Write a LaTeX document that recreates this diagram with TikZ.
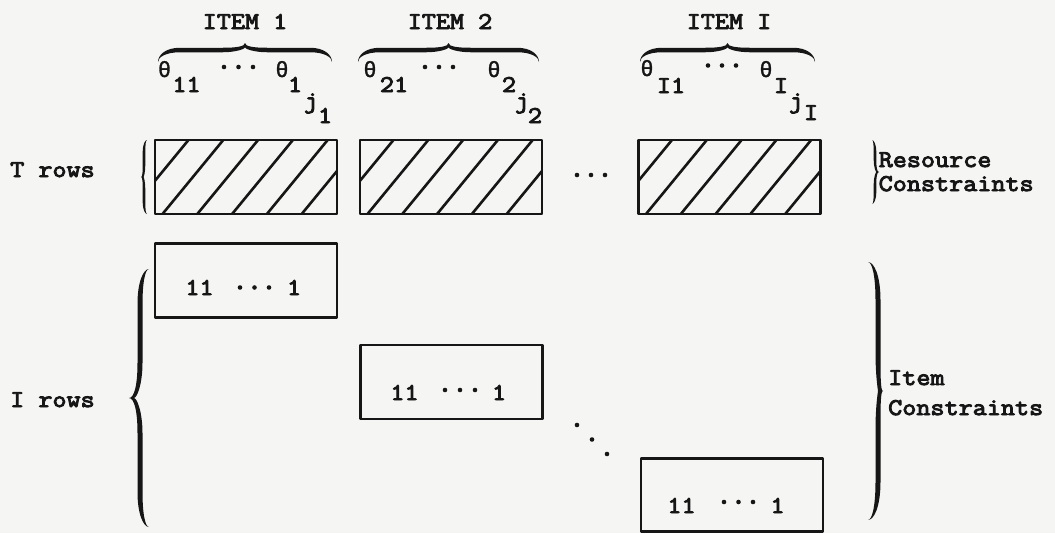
\documentclass[tikz,border=0pt]{standalone}
\usepackage{fontspec}
\usetikzlibrary{calc}
\newfontfamily\typefont{Latin Modern Mono}[FakeBold=4, FakeStretch=1.14]
\newfontfamily\greekfont{Liberation Mono}[FakeBold=1.5]
\definecolor{paper}{RGB}{245,245,243}
\definecolor{ink}{RGB}{22,22,22}

% Filled, tapered curly brace in a local frame: ends at (0,0) and (#1,0),
% straight parts at depth #2, tip at depth #3, curl length #4, stroke width #5.
\newcommand\bracefill[5]{%
  \fill[ink] (0,0)
    .. controls (0,{-0.6*#2}) and ({0.35*#4},{-#2-0.5*#5}) .. ({#4},{-#2-0.5*#5})
    -- ({0.5*#1-#4},{-#2-0.5*#5})
    .. controls ({0.5*#1-0.4*#4},{-#2-0.5*#5}) and ({0.5*#1},{-0.5*#2-0.5*#3}) .. ({0.5*#1},{-#3})
    .. controls ({0.5*#1},{-0.5*#2-0.5*#3}) and ({0.5*#1+0.4*#4},{-#2-0.5*#5}) .. ({0.5*#1+#4},{-#2-0.5*#5})
    -- ({#1-#4},{-#2-0.5*#5})
    .. controls ({#1-0.35*#4},{-#2-0.5*#5}) and (#1,{-0.6*#2}) .. (#1,0)
    .. controls (#1,{-0.4*#2}) and ({#1-0.35*#4},{-#2+0.5*#5}) .. ({#1-#4},{-#2+0.5*#5})
    -- ({0.5*#1+#4},{-#2+0.5*#5})
    .. controls ({0.5*#1+0.4*#4},{-#2+0.5*#5}) and ({0.5*#1},{-0.5*#2-0.5*#3+0.5*#5}) .. ({0.5*#1},{-#3+#5})
    .. controls ({0.5*#1},{-0.5*#2-0.5*#3+0.5*#5}) and ({0.5*#1-0.4*#4},{-#2+0.5*#5}) .. ({0.5*#1-#4},{-#2+0.5*#5})
    -- ({#4},{-#2+0.5*#5})
    .. controls ({0.35*#4},{-#2+0.5*#5}) and (0,{-0.4*#2}) .. (0,0) -- cycle;
}
\newcommand\tdot[1]{\fill[ink] #1 circle (2.3pt);}

\begin{document}
\begin{tikzpicture}[x=1pt, y=-1pt, line join=round,
  tw/.style={font=\typefont\fontsize{24}{28}\selectfont, inner sep=0pt, text=ink},
  th/.style={font=\greekfont\fontsize{22}{26}\selectfont, inner sep=0pt, text=ink},
  box/.style={draw=ink, line width=2.5pt, minimum width=182pt, minimum height=74pt, inner sep=0pt},
  hatch/.style={draw=ink, line width=2.6pt, line cap=round},
  hatched/.style={box, path picture={
      \foreach \k in {0,...,6}{
        \draw[hatch] ($(path picture bounding box.north west)+({43+34.8*\k},-11.6)$) -- ++(-102,124.2);
      }}}]

\path[use as bounding box, fill=paper] (0,0) rectangle (1055,533);

% column headings
\node[tw, anchor=base] (item1) at (245,29) {ITEM 1};
\node[tw, anchor=base] (item2) at (450,29) {ITEM 2};
\node[tw, anchor=base] (itemI) at (729,29) {ITEM I};

\begin{scope}[shift={(158,62)}] \bracefill{174}{12}{19}{22}{4.5} \end{scope}
\begin{scope}[shift={(358,62)}] \bracefill{181}{12}{19}{22}{4.5} \end{scope}
\begin{scope}[shift={(640,62)}] \bracefill{175}{12}{19}{22}{4.5} \end{scope}

% variables of item 1
\node[th, anchor=base] (a1) at (164.5,77) {θ};
\node[tw, anchor=base] (a1s) at (186.5,92) {11};
\tdot{(224,67)} \tdot{(238.5,67)} \tdot{(253,67)}
\node[th, anchor=base] (a2) at (282,77) {θ};
\node[tw, anchor=base] (a2s) at (295,92) {1};
\node[tw, anchor=base] (a2j) at (311,108) {j};
\node[tw, anchor=base] (a2t) at (325,123) {1};

% variables of item 2
\node[th, anchor=base] (b1) at (370,77) {θ};
\node[tw, anchor=base] (b1s) at (394,92) {21};
\tdot{(425,67)} \tdot{(439,67)} \tdot{(453,67)}
\node[th, anchor=base] (b2) at (494,77) {θ};
\node[tw, anchor=base] (b2s) at (509,92) {2};
\node[tw, anchor=base] (b2j) at (522,108) {j};
\node[tw, anchor=base] (b2t) at (535,123) {2};

% variables of item I
\node[th, anchor=base] (c1) at (647,76) {θ};
\node[tw, anchor=base] (c1s) at (671,93) {I1};
\tdot{(708,65.5)} \tdot{(722,65.5)} \tdot{(736,65.5)}
\node[th, anchor=base] (c2) at (766,77) {θ};
\node[tw, anchor=base] (c2s) at (781,93) {I};
\node[tw, anchor=base] (c2j) at (796,108) {j};
\node[tw, anchor=base] (c2t) at (811,120) {I};

% resource constraint blocks
\node[tw, anchor=base west] (trows) at (10,177) {T  rows};
\begin{scope}[shift={(147,140)}, x={(0pt,-1pt)}, y={(1pt,0pt)}] \bracefill{74}{3}{6}{12}{2.6} \end{scope}
\node[hatched] (h1) at (246,177) {};
\node[hatched] (h2) at (451,177) {};
\node[hatched] (h3) at (729.5,177) {};
\tdot{(577,175)} \tdot{(591,175)} \tdot{(605,175)}
\begin{scope}[shift={(872,140)}, x={(0pt,-1pt)}, y={(-1pt,0pt)}] \bracefill{64}{3}{7}{12}{2.6} \end{scope}
\node[tw, anchor=base west] (res) at (878.5,167) {Resource};
\node[tw, anchor=base west] (resc) at (878.5,191) {Constraints};

% item constraint blocks
\node[tw, anchor=base west] (irows) at (10,407) {I  rows};
\begin{scope}[shift={(149,269)}, x={(0pt,-1pt)}, y={(1pt,0pt)}] \bracefill{258}{9}{20}{35}{5} \end{scope}

\node[box] (bA) at (246,280.5) {};
\node[tw, anchor=base] (bA1) at (199.5,295) {11};
\tdot{(240,287.5)} \tdot{(254.5,287.5)} \tdot{(269,287.5)}
\node[tw, anchor=base] (bA2) at (294,295) {1};

\node[box] (bB) at (451.5,382) {};
\node[tw, anchor=base] (bB1) at (404.5,400) {11};
\tdot{(445,390)} \tdot{(460,390)} \tdot{(475,390)}
\node[tw, anchor=base] (bB2) at (499,400) {1};

\tdot{(577,425)} \tdot{(592,439.5)} \tdot{(607,454)}

\node[box, minimum height=73pt] (bC) at (732,495) {};
\node[tw, anchor=base] (bC1) at (681.5,513) {11};
\tdot{(724,502)} \tdot{(738.5,502)} \tdot{(753,502)}
\node[tw, anchor=base] (bC2) at (777.5,513) {1};

\begin{scope}[shift={(868,262)}, x={(0pt,-1pt)}, y={(-1pt,0pt)}] \bracefill{258}{10}{15}{38}{5} \end{scope}
\node[tw, anchor=base west] (itm) at (888,385) {Item};
\node[tw, anchor=base west] (itmc) at (888,415) {Constraints};

\end{tikzpicture}
\end{document}
